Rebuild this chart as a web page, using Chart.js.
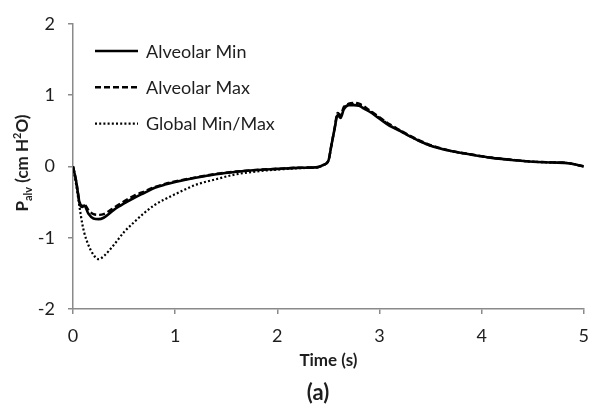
<!DOCTYPE html>
<html>
<head>
<meta charset="utf-8">
<script src="https://cdn.jsdelivr.net/npm/chart.js@4"></script>
<style>
  html, body { margin: 0; padding: 0; background: #fff; }
  #wrap { width: 600px; height: 408px; }
</style>
</head>
<body>
<div id="wrap"><canvas id="palvChart" width="600" height="408"></canvas></div>
<script>
// Alveolar pressure over one breath (cm H2O vs s)
const times = [0, 0.03, 0.065, 0.09, 0.11, 0.15, 0.2, 0.25, 0.3, 0.4, 0.5, 0.6, 0.7, 0.8, 0.9, 1.0,
  1.2, 1.4, 1.6, 1.8, 2.0, 2.2, 2.4, 2.45, 2.5, 2.53, 2.56, 2.59, 2.62, 2.65, 2.7, 2.75, 2.8,
  2.85, 2.9, 3.0, 3.1, 3.2, 3.3, 3.4, 3.5, 3.7, 3.9, 4.1, 4.3, 4.5, 4.7, 4.85, 5.0];

const alveolarMin = [0, -0.2, -0.52, -0.57, -0.55, -0.66, -0.73, -0.74, -0.72, -0.61, -0.52, -0.44,
  -0.37, -0.3, -0.255, -0.22, -0.16, -0.11, -0.075, -0.05, -0.035, -0.02, -0.01, 0.02, 0.08, 0.3,
  0.52, 0.72, 0.68, 0.8, 0.86, 0.86, 0.85, 0.81, 0.77, 0.67, 0.57, 0.5, 0.42, 0.35, 0.29, 0.215,
  0.165, 0.12, 0.09, 0.065, 0.055, 0.045, 0.0];

const alveolarMax = [0, -0.2, -0.5, -0.55, -0.53, -0.61, -0.67, -0.68, -0.67, -0.58, -0.49, -0.41,
  -0.35, -0.29, -0.245, -0.21, -0.155, -0.105, -0.072, -0.048, -0.033, -0.018, -0.008, 0.02, 0.08,
  0.3, 0.53, 0.75, 0.72, 0.83, 0.88, 0.89, 0.88, 0.84, 0.79, 0.69, 0.59, 0.51, 0.43, 0.36, 0.3,
  0.218, 0.168, 0.122, 0.092, 0.067, 0.056, 0.046, 0.0];

const globalMinMax = [0, -0.25, -0.58, -0.8, -0.93, -1.1, -1.24, -1.3, -1.26, -1.1, -0.92, -0.78,
  -0.65, -0.54, -0.46, -0.39, -0.26, -0.18, -0.11, -0.07, -0.045, -0.025, -0.01, 0.02, 0.08, 0.3,
  0.52, 0.73, 0.7, 0.81, 0.87, 0.875, 0.865, 0.82, 0.78, 0.68, 0.58, 0.5, 0.42, 0.35, 0.29, 0.215,
  0.165, 0.12, 0.09, 0.065, 0.055, 0.045, 0.0];

const xTicks = [0, 1, 2, 3, 4, 5];
const yTicks = [-2, -1, 0, 1, 2];

const seriesNames = ['Alveolar Min', 'Alveolar Max', 'Global Min/Max'];

const axisGrey = '#8a8a8a';
const textColor = '#1e1e1e';

function toPoints(values) {
  return times.map((t, i) => ({ x: t, y: values[i] }));
}

// legend sits inside the plot, top-left
const insideLegend = {
  id: 'insideLegend',
  afterDatasetsDraw(chart) {
    const ctx = chart.ctx;
    ctx.save();
    ctx.font = '18px Lato';
    ctx.fillStyle = textColor;
    ctx.textBaseline = 'middle';
    chart.data.datasets.forEach((ds, i) => {
      const y = 51 + i * 36.3;
      ctx.beginPath();
      ctx.setLineDash(ds.borderDash || []);
      ctx.lineWidth = ds.borderWidth;
      ctx.strokeStyle = ds.borderColor;
      ctx.moveTo(95, y);
      ctx.lineTo(138, y);
      ctx.stroke();
      ctx.setLineDash([]);
      ctx.fillText(ds.label, 146, y + 1);
    });
    ctx.restore();
  }
};

// y title needs sub/superscripts, plus the panel tag under the axis
const extraLabels = {
  id: 'extraLabels',
  afterDraw(chart) {
    const ctx = chart.ctx;
    const parts = [
      { text: 'P', size: 17, dy: 0 },
      { text: 'alv', size: 11, dy: 4 },
      { text: ' (cm H', size: 17, dy: 0 },
      { text: '2', size: 11, dy: -7 },
      { text: 'O)', size: 17, dy: 0 }
    ];
    ctx.save();
    ctx.fillStyle = textColor;
    ctx.textBaseline = 'alphabetic';
    let total = 0;
    parts.forEach(p => {
      ctx.font = `bold ${p.size}px Lato`;
      p.w = ctx.measureText(p.text).width;
      total += p.w;
    });
    ctx.translate(28, 163);
    ctx.rotate(-Math.PI / 2);
    let x = -total / 2;
    parts.forEach(p => {
      ctx.font = `bold ${p.size}px Lato`;
      ctx.fillText(p.text, x, p.dy);
      x += p.w;
    });
    ctx.restore();

    ctx.save();
    ctx.fillStyle = textColor;
    ctx.font = 'bold 22px Lato';
    ctx.textAlign = 'center';
    ctx.textBaseline = 'middle';
    ctx.fillText('(a)', 318, 393);
    ctx.restore();
  }
};

const ctx = document.getElementById('palvChart').getContext('2d');

new Chart(ctx, {
  type: 'line',
  data: {
    datasets: [
      {
        label: seriesNames[0],
        data: toPoints(alveolarMin),
        borderColor: '#000',
        borderWidth: 2.6,
        borderDash: []
      },
      {
        label: seriesNames[1],
        data: toPoints(alveolarMax),
        borderColor: '#000',
        borderWidth: 2.4,
        borderDash: [6, 3]
      },
      {
        label: seriesNames[2],
        data: toPoints(globalMinMax),
        borderColor: '#000',
        borderWidth: 2.2,
        borderDash: [2, 2.2]
      }
    ]
  },
  options: {
    responsive: false,
    animation: false,
    layout: { padding: { left: 0, right: 13, top: 10, bottom: 37 } },
    elements: {
      point: { radius: 0 },
      line: { cubicInterpolationMode: 'monotone', fill: false }
    },
    plugins: {
      legend: { display: false },
      tooltip: { enabled: false }
    },
    scales: {
      x: {
        type: 'linear',
        min: 0,
        max: 5,
        afterBuildTicks: s => { s.ticks = xTicks.map(v => ({ value: v })); },
        afterFit: s => { s.height = 62; },
        grid: { drawOnChartArea: false, drawTicks: true, tickLength: 5, color: axisGrey, lineWidth: 1.5 },
        border: { color: axisGrey, width: 1.5 },
        ticks: { padding: 11, maxRotation: 0, color: textColor, font: { family: 'Lato', size: 18 } },
        title: {
          display: true,
          text: 'Time (s)',
          color: textColor,
          font: { family: 'Lato', size: 17, weight: 'bold' },
          padding: { top: 0, bottom: 0 }
        }
      },
      y: {
        type: 'linear',
        min: -2,
        max: 2,
        afterBuildTicks: s => { s.ticks = yTicks.map(v => ({ value: v })); },
        afterFit: s => { s.width = 73; },
        grid: { drawOnChartArea: false, drawTicks: true, tickLength: 5, color: axisGrey, lineWidth: 1.5 },
        border: { color: axisGrey, width: 1.5 },
        ticks: { padding: 13, color: textColor, font: { family: 'Lato', size: 18 } }
      }
    }
  },
  plugins: [insideLegend, extraLabels]
});
</script>
</body>
</html>
